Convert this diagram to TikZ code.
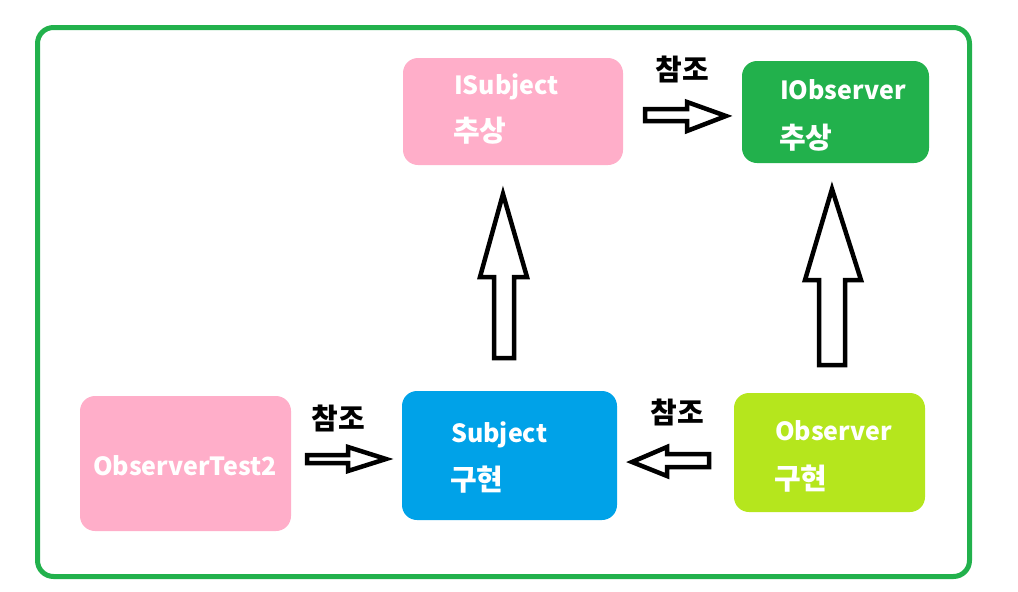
\documentclass[tikz,border=0pt]{standalone}
\usepackage{fontspec}
\setmainfont{Noto Sans CJK KR}
\definecolor{cpink}{HTML}{FFAEC9}
\definecolor{cgreen}{HTML}{22B14C}
\definecolor{cblue}{HTML}{00A2E8}
\definecolor{clime}{HTML}{B5E61D}
\tikzset{
  box/.style={rounded corners=15pt},
  wtext/.style={text=white,font=\fontsize{25}{30}\selectfont\bfseries,anchor=base west,inner sep=0pt},
  ktext/.style={text=white,font=\fontsize{29}{34}\selectfont\bfseries,anchor=base west,inner sep=0pt},
  btext/.style={text=black,font=\fontsize{29}{34}\selectfont\bfseries,anchor=base,inner sep=0pt},
  blockarrow/.style={draw=black,fill=white,line width=4.5pt,line join=miter},
}
\begin{document}
\begin{tikzpicture}[x=1pt,y=-1pt]
\useasboundingbox (0,0) rectangle (1018,592);
% frame
\draw[cgreen,line width=5pt,rounded corners=16pt] (37.5,27.5) rectangle (969.5,576.5);
% boxes
\fill[box,cpink] (403,58) rectangle (623,165);
\fill[box,cgreen] (742,61) rectangle (929,163);
\fill[box,cblue] (402,391) rectangle (617,520);
\fill[box,cpink] (80,396) rectangle (291,531);
\fill[box,clime] (734,393) rectangle (925,512);
% texts
\node[wtext] (isub) at (454,94) {ISubject};
\node[ktext] (isubk) at (453,141) {추상};
\node[wtext] (iobs) at (780,99) {IObserver};
\node[ktext] (iobsk) at (779,148) {추상};
\node[wtext] (sub) at (451,442) {Subject};
\node[ktext] (subk) at (450,490) {구현};
\node[wtext] (obs) at (775,440) {Observer};
\node[ktext] (obsk) at (774,489) {구현};
\node[wtext,anchor=base] (test) at (185,475) {ObserverTest2};
\node[btext] (r1) at (682,80) {참조};
\node[btext] (r2) at (338,429) {참조};
\node[btext] (r3) at (677,423) {참조};
% block arrows
\coordinate (t1) at (726,116);
\draw[blockarrow] (645,109) -- (687,109) -- (687,102) -- (t1) -- (687,131) -- (687,121) -- (645,121) -- cycle;
\coordinate (t2) at (386,459);
\draw[blockarrow] (307,455) -- (348,455) -- (348,447) -- (t2) -- (348,471) -- (348,463) -- (307,463) -- cycle;
\coordinate (t3) at (632,462);
\draw[blockarrow] (709,454) -- (667,454) -- (667,447) -- (t3) -- (667,476) -- (667,467) -- (709,467) -- cycle;
\coordinate (t4) at (503,194);
\draw[blockarrow] (494,358) -- (494,277) -- (480,277) -- (t4) -- (527,277) -- (514,277) -- (514,358) -- cycle;
\coordinate (t5) at (832,189);
\draw[blockarrow] (819,365) -- (819,280) -- (805,280) -- (t5) -- (861,280) -- (845,280) -- (845,365) -- cycle;
\end{tikzpicture}
\end{document}
